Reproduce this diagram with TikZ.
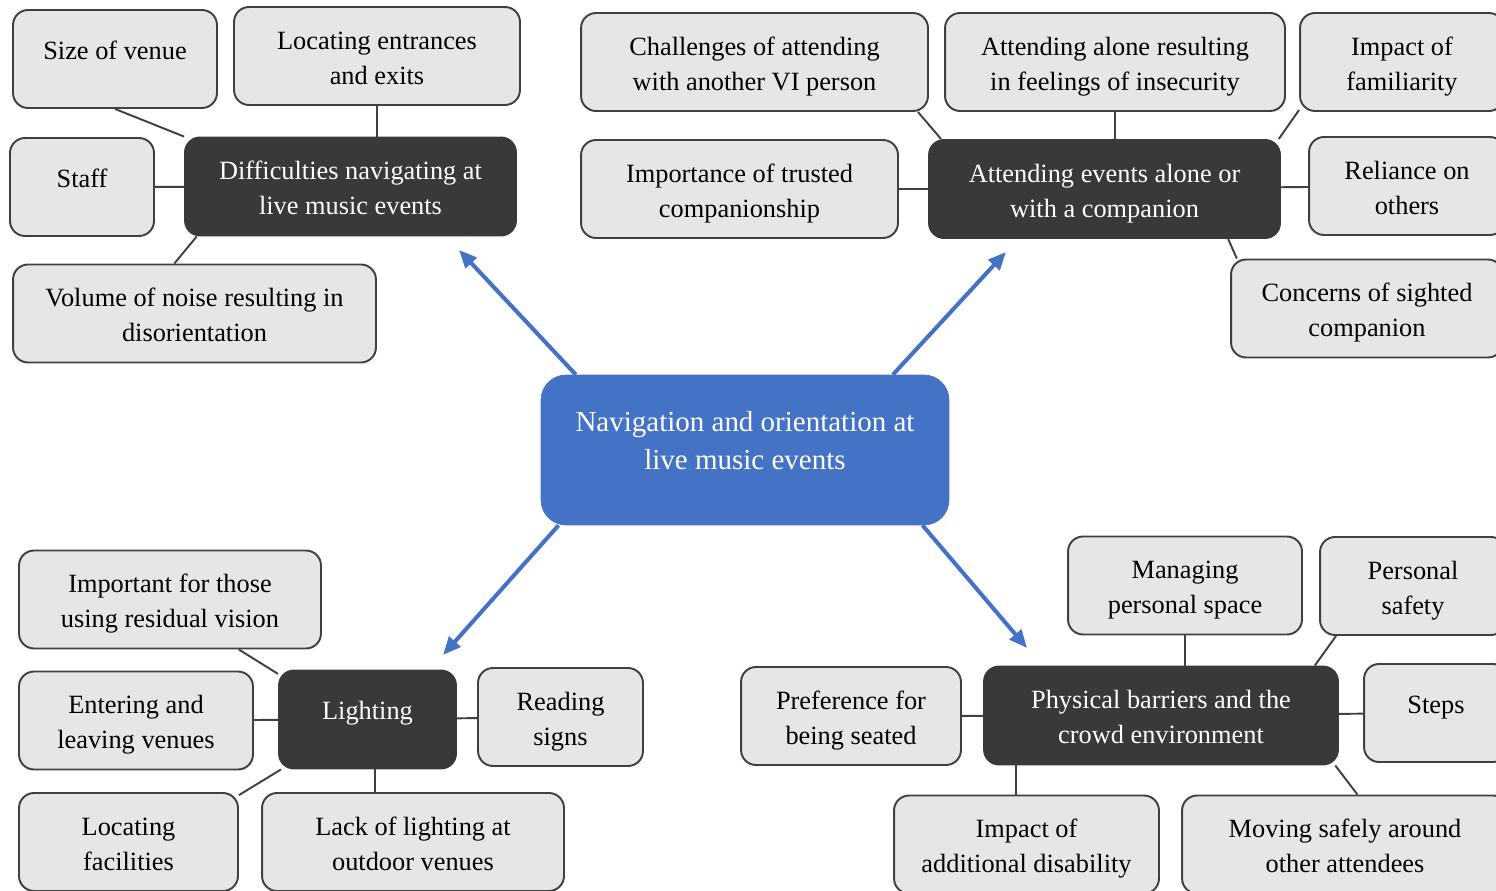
\documentclass[tikz,border=0pt]{standalone}
\usepackage{fontspec}
\setmainfont{Liberation Serif}
\usetikzlibrary{arrows.meta}
\definecolor{leaffill}{HTML}{E7E6E6}
\definecolor{edgegray}{HTML}{404040}
\definecolor{themedark}{HTML}{3A3838}
\definecolor{hubblue}{HTML}{4472C4}

\begin{document}
\begin{tikzpicture}[x=0.02cm, y=-0.02cm,
    leaf/.style={draw=edgegray, line width=1.1pt, fill=leaffill,
      rounded corners=0.3cm, minimum height=1.96cm, align=center,
      inner sep=2pt, text height=32pt, text depth=0pt,
      font=\fontsize{15pt}{19.9pt}\selectfont},
    theme/.style={leaf, draw=themedark, fill=themedark, text=white},
    oneline/.style={text height=10.2pt, text depth=0.34cm},
    hub/.style={draw=hubblue, fill=hubblue, text=white, rounded corners=0.5cm,
      align=center, text depth=0.38cm,
      font=\fontsize{16.5pt}{22pt}\selectfont},
    link/.style={draw=edgegray, line width=1.1pt},
    spoke/.style={draw=hubblue, line width=2.3pt,
      -{Triangle[length=0.36cm, width=0.3cm]}}]
    \useasboundingbox (0,0) rectangle (1496,891);
    \clip (0,0) rectangle (1496,891);

    \coordinate (tipUL) at (459, 250);
    \coordinate (tipUR) at (1006, 252);
    \coordinate (tipLL) at (443, 655);
    \coordinate (tipLR) at (1027, 648);

    \node[hub, minimum width=8.16cm, minimum height=3cm] (hub) at (745, 450)
      {Navigation and orientation at\\live music events};

    \node[leaf, oneline, minimum width=4.08cm] (venue) at (115, 59) {Size of venue};
    \node[leaf, minimum width=5.72cm] (exits) at (377, 56) {Locating entrances\\and exits};
    \node[leaf, oneline, minimum width=2.88cm] (staff) at (82, 187) {Staff};
    \node[theme, minimum width=6.62cm] (navigate) at (350.5, 186.5)
      {Difficulties navigating at\\live music events};
    \node[leaf, minimum width=7.26cm] (noise) at (194.5, 313.5)
      {Volume of noise resulting in\\disorientation};

    \node[leaf, minimum width=6.94cm] (otherVI) at (754.5, 62)
      {Challenges of attending\\with another VI person};
    \node[leaf, minimum width=6.8cm] (insecure) at (1115, 62)
      {Attending alone resulting\\in feelings of insecurity};
    \node[leaf, minimum width=4.08cm] (familiar) at (1402, 62) {Impact of\\familiarity};
    \node[leaf, minimum width=6.34cm] (trusted) at (739.5, 189)
      {Importance of trusted\\companionship};
    \node[theme, minimum width=7.02cm] (company) at (1104.5, 189)
      {Attending events alone or\\with a companion};
    \node[leaf, minimum width=3.92cm] (reliance) at (1407, 186) {Reliance on\\others};
    \node[leaf, minimum width=5.44cm] (sighted) at (1367, 308.5)
      {Concerns of sighted\\companion};

    \node[leaf, minimum width=6.04cm] (residual) at (170, 599.5)
      {Important for those\\using residual vision};
    \node[leaf, minimum width=4.68cm] (entering) at (136, 720.5)
      {Entering and\\leaving venues};
    \node[theme, oneline, minimum width=3.54cm] (lighting) at (367.5, 719.5) {Lighting};
    \node[leaf, minimum width=3.3cm] (signs) at (560.5, 717) {Reading\\signs};
    \node[leaf, minimum width=4.38cm] (facilities) at (128.5, 842) {Locating\\facilities};
    \node[leaf, minimum width=6.04cm] (outdoor) at (413, 842)
      {Lack of lighting at\\outdoor venues};

    \node[leaf, minimum width=4.68cm] (space) at (1185, 585.5) {Managing\\personal space};
    \node[leaf, minimum width=3.72cm] (safety) at (1413, 586) {Personal\\safety};
    \node[leaf, minimum width=4.4cm] (seated) at (851, 716) {Preference for\\being seated};
    \node[theme, minimum width=7.08cm] (crowd) at (1161, 715.5)
      {Physical barriers and the\\crowd environment};
    \node[leaf, oneline, minimum width=2.88cm] (steps) at (1436, 713) {Steps};
    \node[leaf, minimum width=5.3cm] (disability) at (1026.5, 844.5)
      {Impact of\\additional disability};
    \node[leaf, minimum width=6.52cm] (attendees) at (1345, 844.5)
      {Moving safely around\\other attendees};

    \draw[link] (venue.south) -- (navigate.north west);
    \draw[link] (exits.south) -- (exits.south |- navigate.north);
    \draw[link] (staff) -- (navigate);
    \draw[link] (noise.112) -- (navigate.198);

    \draw[link] (otherVI.343) -- (company.163);
    \draw[link] (insecure.south) -- (insecure.south |- company.north);
    \draw[link] (familiar.205) -- (company.16);
    \draw[link] (trusted) -- (company);
    \draw[link] (company) -- (reliance);
    \draw[link] (sighted.159) -- (company.338);

    \draw[link] (residual.324) -- (lighting.153);
    \draw[link] (entering) -- (lighting);
    \draw[link] (lighting) -- (signs);
    \draw[link] (facilities.23) -- (lighting.210);
    \draw[link] (lighting.279) -- (lighting.279 |- outdoor.north);

    \draw[link] (space.south) -- (space.south |- crowd.north);
    \draw[link] (safety.213) -- (crowd.18);
    \draw[link] (seated) -- (crowd);
    \draw[link] (crowd) -- (steps);
    \draw[link] (disability.102) -- (disability.102 |- crowd.south);
    \draw[link] (attendees.76) -- (crowd.344);

    \foreach \a/\t in {156/tipUL, 27/tipUR, 202/tipLL, 337/tipLR} {
      \draw[spoke] (hub.\a) -- (\t);
    }
  \end{tikzpicture}
\end{document}
